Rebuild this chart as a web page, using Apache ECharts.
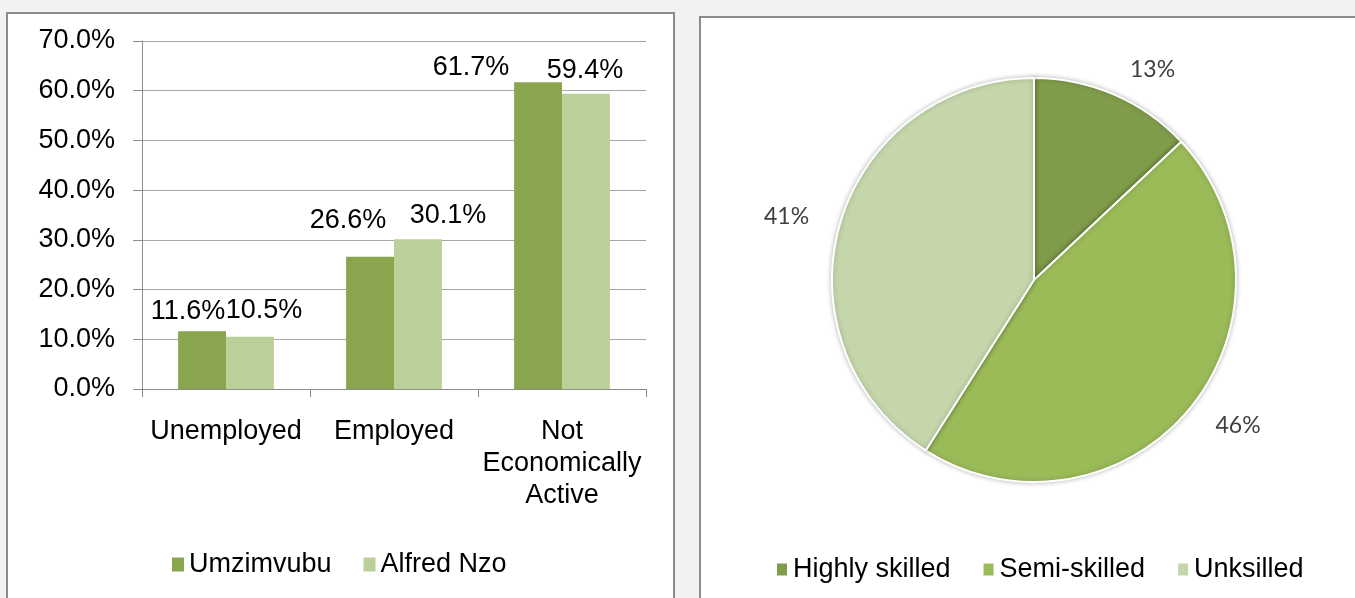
<!DOCTYPE html>
<html>
<head>
<meta charset="utf-8">
<script src="https://cdn.jsdelivr.net/npm/echarts@6/dist/echarts.min.js"></script>
<style>
    html, body { margin: 0; padding: 0; background: #f2f2f2; }
    #chart { width: 1355px; height: 598px; }
</style>
</head>
<body>
<div id="chart"></div>
<script>
// 就业状况（柱状图）
const statusCategories = ['Unemployed', 'Employed', 'Not\nEconomically\nActive'];
const umzimvubuValues = [11.6, 26.6, 61.7];
const alfredNzoValues = [10.5, 30.1, 59.4];

// 技能水平（饼图）
const skillNames = ['Highly skilled', 'Semi-skilled', 'Unksilled'];
const skillValues = [13, 46, 41];

const yTicks = { min: 0, max: 70, interval: 10 };

// 标签手动偏移（仿 Excel 手动摆放）
const umzLabelOffset = [[-14, 0], [-22, -16], [-67, 5]];
const alfLabelOffset = [[14, -6], [30, -4], [-1, -3]];

const FONT = 'Liberation Sans, Arial, sans-serif';
const FS = 27;
const barColors = ['#89a54e', '#bbcf99'];
const pieColors = ['#7f9c4a', '#9bbb59', '#c5d6ab'];

const chart = echarts.init(document.getElementById('chart'));

function barData(values, offsets) {
    return values.map((v, i) => ({
        value: v,
        label: { offset: offsets[i] }
    }));
}

const barLabel = {
    show: true,
    position: 'top',
    distance: 5,
    fontFamily: FONT,
    fontSize: FS,
    lineHeight: 30,
    color: '#000',
    formatter: p => p.value.toFixed(1) + '%'
};

const option = {
    backgroundColor: '#f2f2f2',
    animation: false,
    textStyle: { fontFamily: FONT },
    graphic: [
        {
            type: 'rect', z: -10,
            shape: { x: 7, y: 13, width: 667, height: 620 },
            style: { fill: '#fff', stroke: '#8c8c8c', lineWidth: 2 }
        },
        {
            type: 'rect', z: -10,
            shape: { x: 700, y: 17, width: 700, height: 620 },
            style: { fill: '#fff', stroke: '#8c8c8c', lineWidth: 2 }
        }
    ],
    legend: [
        {
            data: ['Umzimvubu', 'Alfred Nzo'],
            left: 172, top: 551,
            padding: 0,
            icon: 'rect',
            itemWidth: 12, itemHeight: 14,
            itemGap: 32,
            textStyle: { fontFamily: FONT, fontSize: FS, color: '#000' }
        },
        {
            data: skillNames,
            left: 775, top: 556,
            padding: 0,
            icon: 'rect',
            itemWidth: 12, itemHeight: 14,
            itemGap: 31,
            textStyle: { fontFamily: FONT, fontSize: FS, color: '#000' }
        }
    ],
    grid: { left: 142, top: 41, width: 504, height: 348 },
    xAxis: {
        type: 'category',
        data: statusCategories,
        axisLine: { lineStyle: { color: '#8c8c8c', width: 1 } },
        axisTick: { show: true, length: 8, lineStyle: { color: '#8c8c8c' } },
        axisLabel: {
            margin: 27,
            fontFamily: FONT, fontSize: FS, lineHeight: 32,
            color: '#000', interval: 0
        }
    },
    yAxis: {
        type: 'value',
        min: yTicks.min, max: yTicks.max, interval: yTicks.interval,
        axisLine: { show: true, lineStyle: { color: '#8c8c8c', width: 1 } },
        axisTick: { show: true, length: 9, lineStyle: { color: '#8c8c8c' } },
        splitLine: { lineStyle: { color: '#a6a6a6', width: 1 } },
        axisLabel: {
            margin: 27,
            fontFamily: FONT, fontSize: FS,
            color: '#000',
            formatter: v => v.toFixed(1) + '%'
        }
    },
    series: [
        {
            name: 'Umzimvubu',
            type: 'bar',
            data: barData(umzimvubuValues, umzLabelOffset),
            barGap: '0%',
            barCategoryGap: '43%',
            itemStyle: { color: barColors[0] },
            label: barLabel
        },
        {
            name: 'Alfred Nzo',
            type: 'bar',
            data: barData(alfredNzoValues, alfLabelOffset),
            itemStyle: { color: barColors[1] },
            label: barLabel
        },
        {
            name: 'Skills',
            type: 'pie',
            center: [1034, 280],
            radius: 202,
            startAngle: 90,
            clockwise: true,
            data: skillNames.map((n, i) => ({
                name: n,
                value: skillValues[i],
                itemStyle: { color: pieColors[i] }
            })),
            itemStyle: {
                borderColor: '#fff', borderWidth: 2,
                shadowBlur: 5, shadowColor: 'rgba(0,0,0,0.25)'
            },
            label: {
                show: true,
                position: 'outside',
                formatter: '{d}%',
                fontFamily: 'Lato, Open Sans, sans-serif',
                fontSize: 23,
                color: '#404040'
            },
            labelLine: { show: false, length: 27, length2: 0 },
            emphasis: { disabled: true }
        }
    ]
};

chart.setOption(option);
</script>
</body>
</html>
